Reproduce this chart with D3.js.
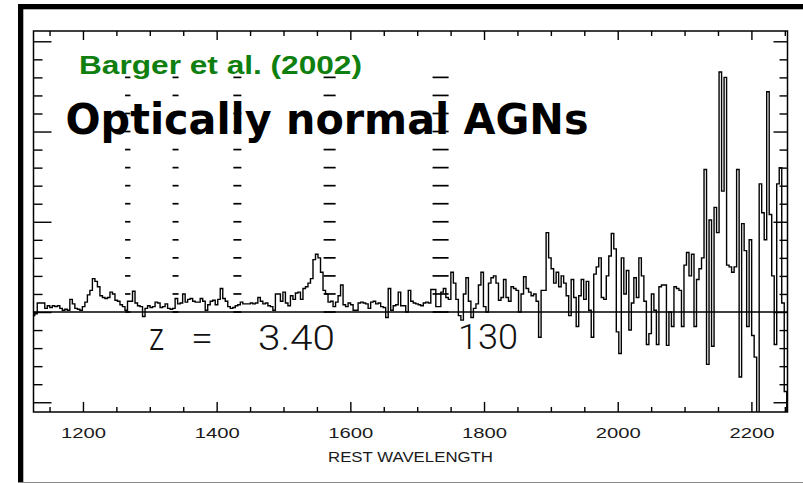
<!DOCTYPE html>
<html>
<head>
<meta charset="utf-8">
<script src="https://cdn.jsdelivr.net/npm/d3@7"></script>
<style>
  html, body { margin: 0; padding: 0; background: #fff; }
  svg { display: block; }
</style>
</head>
<body>
<svg id="chart" width="803" height="483"></svg>
<script>
// Rest-frame wavelength grid (Angstrom) of the binned spectrum
const waveStart = 1126;
const waveEnd = 2254;
const waveStep = 3.75;

// Flux per bin (arbitrary units, continuum-subtracted)
const flux = [
  -0.2, -0.1, 0.5, 0.5, 0.5, 0.2, 0.35, 0.25, 0.35, 0.3,
  0.35, 0.2, 0.1, 0.15, 0.1, 0.7, 0.45, 0.2, 0.15, 0.1,
  0.3, 0.55, 0.95, 1.2, 1.85, 1.7, 1.4, 0.9, 0.8, 0.75,
  0.8, 1.1, 1.0, 0.65, 0.6, 0.4, 0.3, 0.1, 0.6, 0.6,
  1.15, 0.5, 0.35, 0.3, -0.25, 0.2, 0.35, 0.25, 0.3, 0.55,
  0.5, 0.25, 0.3, 0.45, 0.2, 0.15, 0.2, 0.75, 0.45, 0.5,
  1.0, 0.55, 0.7, 0.75, 0.6, 0.55, 0.55, 0.75, 0.6, 0.1,
  0.4, 0.6, 0.65, 0.4, 0.7, 1.3, 0.75, 0.6, 0.3, 0.2,
  0.25, 0.35, 0.4, 0.55, 0.45, 0.45, 0.45, 0.5, 0.45, 0.5,
  0.8, 0.6, 0.45, 0.5, 0.35, 0.3, 0.1, 1.0, 1.0, 0.6,
  1.1, 0.5, 0.35, 0.9, 0.7, 1.05, 1.1, 0.7, 1.3, 1.4,
  1.6, 1.85, 2.9, 3.2, 3.0, 2.2, 1.2, 1.0, 0.55, 0.6,
  0.3, 0.55, 0.9, 1.5, 0.4, 0.3, 0.5, 0.4, 0.1, 0.1,
  0.5, 0.55, 0.5, 0.45, 0.2, 0.55, 0.6, 0.45, 0.5, 0.3,
  0.25, -0.3, 1.3, 0.1, 0.35, 0.4, 1.1, 0.35, 0.35, 0.0,
  1.2, 0.6, 0.5, 0.45, 0.4, 0.35, 0.5, 0.55, 0.5, 1.25,
  1.25, 0.3, 0.3, 1.1, 1.3, 0.8, 0.7, 2.2, 1.6, 0.7,
  -0.2, -0.45, 1.0, 1.9, 0.6, -0.3, 0.2, 0.45, 1.5, 2.2,
  0.3, 0.0, 1.6, 1.9, 2.0, 1.6, 0.65, 0.8, 1.8, 0.8,
  0.6, 1.4, 1.3, 1.2, 0.0, 1.0, 1.95, 1.3, 1.1, 0.9,
  1.0, 0.6, -1.4, 1.2, 1.2, 4.4, 3.0, 2.4, 1.6, 2.2,
  1.4, 2.0, 1.6, 0.9, -0.2, 1.8, 0.8, -0.8, 0.9, 1.8,
  0.7, 1.7, 0.1, -1.4, 2.1, 2.5, 3.0, 0.8, 0.7, 2.0,
  3.1, 4.35, 3.5, -1.1, -2.3, 3.0, 1.0, 2.3, -1.0, 0.5,
  1.9, 0.8, 3.0, 2.0, 0.6, -1.8, -1.2, 1.0, 0.1, -1.8,
  1.4, 1.5, 1.5, -1.85, 0.0, -0.8, 1.4, 1.3, 1.2, -0.8,
  2.6, 3.3, 2.0, 3.2, -0.8, 1.8, 2.4, 3.0, 7.9, -2.9,
  5.1, -1.9, 5.8, 4.4, 13.3, 6.7, 13.0, 2.6, 2.5, 2.2,
  2.5, 7.9, -3.6, 4.9, 3.4, -0.8, 4.0, -1.3, -2.5, -6.0,
  7.1, 5.5, 4.0, 12.2, 5.4, 2.0, -1.8, 7.1, 8.0, 0.5,
  -4.4, -6.0
];

// Axis ticks
const xMajorTicks = [1200, 1400, 1600, 1800, 2000, 2200];
const xMinorTicks = [1150, 1250, 1300, 1350, 1450, 1500, 1550, 1650, 1700, 1750,
                     1850, 1900, 1950, 2050, 2100, 2150, 2250];
const yMajorTicks = [-5, 0, 5, 10, 15];
const yMinorTicks = [-4, -3, -2, -1, 1, 2, 3, 4, 6, 7, 8, 9, 11, 12, 13, 14];

// Emission-line windows marked by dashed columns [blue edge, red edge] in Angstrom
const lineWindows = [[1263, 1271], [1334, 1343], [1425, 1437], [1560, 1578], [1723, 1747]];
const lineMarkLevels = [0, 1, 2, 3, 4, 5, 6, 7, 8, 9, 10, 11, 12, 13];

// Texts
const xAxisTitle = "REST WAVELENGTH";
const creditText = "Barger et al. (2002)";
const titleText = "Optically normal AGNs";
const redshiftParts = ["z", "=", "3.40"];
const objectId = "130";

const svg = d3.select("#chart");
const plot = { left: 33.5, right: 787.5, top: 31, bottom: 412 };

const x = d3.scaleLinear().domain([waveStart, waveEnd]).range([plot.left, plot.right]);
const y = d3.scaleLinear().domain([-5.54, 15.57]).range([plot.bottom, plot.top]);

// Slide frame: heavy rule on the left and top, hairline at the bottom
svg.append("rect").attr("x", 18).attr("y", 4).attr("width", 5.3).attr("height", 479).attr("fill", "#000");
svg.append("rect").attr("x", 18).attr("y", 4).attr("width", 785).attr("height", 5.3).attr("fill", "#000");
svg.append("line").attr("x1", 18).attr("x2", 803).attr("y1", 482.5).attr("y2", 482.5)
  .attr("stroke", "#8a8a8a").attr("stroke-width", 1);

// Titles (drawn first so the line markers sit on top)
svg.append("text")
  .attr("x", 79).attr("y", 74)
  .attr("font-family", "'Liberation Sans', Arial, sans-serif")
  .attr("font-weight", "bold").attr("font-size", 26.5)
  .attr("fill", "#0f7f0f")
  .attr("textLength", 283).attr("lengthAdjust", "spacingAndGlyphs")
  .text(creditText);

svg.append("text")
  .attr("x", 65.5).attr("y", 134)
  .attr("font-family", "'DejaVu Sans', sans-serif")
  .attr("font-weight", "bold").attr("font-size", 42.5)
  .attr("fill", "#000")
  .attr("textLength", 523).attr("lengthAdjust", "spacingAndGlyphs")
  .text(titleText);

// Axes
function styleAxis(g) {
  g.select(".domain").remove();
  g.selectAll(".tick line").attr("stroke", "#000").attr("stroke-width", 1.4);
}

svg.append("g").attr("transform", `translate(0,${plot.bottom})`)
  .call(d3.axisBottom(x).tickValues(xMajorTicks).tickSize(-10).tickPadding(15.4).tickFormat(d3.format("d")))
  .call(styleAxis)
  .call(g => g.selectAll("text")
    .attr("font-family", "'Liberation Sans', Arial, sans-serif")
    .attr("font-size", 15).attr("fill", "#1a1a1a")
    .attr("textLength", 45).attr("lengthAdjust", "spacingAndGlyphs"));
svg.append("g").attr("transform", `translate(0,${plot.bottom})`)
  .call(d3.axisBottom(x).tickValues(xMinorTicks).tickSize(-5).tickFormat(""))
  .call(styleAxis);

svg.append("g").attr("transform", `translate(0,${plot.top})`)
  .call(d3.axisTop(x).tickValues(xMajorTicks).tickSize(-9).tickFormat(""))
  .call(styleAxis);
svg.append("g").attr("transform", `translate(0,${plot.top})`)
  .call(d3.axisTop(x).tickValues(xMinorTicks).tickSize(-5).tickFormat(""))
  .call(styleAxis);

svg.append("g").attr("transform", `translate(${plot.left},0)`)
  .call(d3.axisLeft(y).tickValues(yMajorTicks).tickSize(-18).tickFormat(""))
  .call(styleAxis);
svg.append("g").attr("transform", `translate(${plot.left},0)`)
  .call(d3.axisLeft(y).tickValues(yMinorTicks).tickSize(-9).tickFormat(""))
  .call(styleAxis);

svg.append("g").attr("transform", `translate(${plot.right},0)`)
  .call(d3.axisRight(y).tickValues(yMajorTicks).tickSize(-14).tickFormat(""))
  .call(styleAxis);
svg.append("g").attr("transform", `translate(${plot.right},0)`)
  .call(d3.axisRight(y).tickValues(yMinorTicks).tickSize(-8).tickFormat(""))
  .call(styleAxis);

svg.append("text")
  .attr("x", 410.5).attr("y", 461.5)
  .attr("text-anchor", "middle")
  .attr("font-family", "'Liberation Sans', Arial, sans-serif")
  .attr("font-size", 15.5).attr("fill", "#1a1a1a")
  .attr("textLength", 165).attr("lengthAdjust", "spacingAndGlyphs")
  .text(xAxisTitle);

// Clip region for the data
svg.append("clipPath").attr("id", "plot-clip")
  .append("rect")
  .attr("x", plot.left).attr("y", plot.top)
  .attr("width", plot.right - plot.left).attr("height", plot.bottom - plot.top);

const dataLayer = svg.append("g").attr("clip-path", "url(#plot-clip)");

// Zero level
dataLayer.append("line")
  .attr("x1", plot.left).attr("x2", plot.right)
  .attr("y1", y(0)).attr("y2", y(0))
  .attr("stroke", "#000").attr("stroke-width", 1.4);

// Binned spectrum drawn as a histogram-style step line
const spectrum = flux.map((f, i) => ({ wave: waveStart + i * waveStep, flux: f }));
const stepLine = d3.line()
  .x(d => x(d.wave))
  .y(d => y(d.flux))
  .curve(d3.curveStep);

dataLayer.append("path")
  .datum(spectrum)
  .attr("d", stepLine)
  .attr("fill", "none")
  .attr("stroke", "#000")
  .attr("stroke-width", 1.4)
  .attr("stroke-linejoin", "miter");

// Emission-line markers: stacked short dashes across each window
const markData = lineWindows.flatMap(w => lineMarkLevels.map(l => ({ lo: w[0], hi: w[1], level: l })));
svg.append("g").selectAll("line")
  .data(markData)
  .join("line")
  .attr("x1", d => x(d.lo)).attr("x2", d => x(d.hi))
  .attr("y1", d => y(d.level)).attr("y2", d => y(d.level))
  .attr("stroke", "#000").attr("stroke-width", 1.7);

// Plot frame
svg.append("rect")
  .attr("x", plot.left).attr("y", plot.top)
  .attr("width", plot.right - plot.left).attr("height", plot.bottom - plot.top)
  .attr("fill", "none").attr("stroke", "#000").attr("stroke-width", 1.5);

// Redshift and object annotations in a thin face
const thinFont = "Roboto, 'Open Sans', 'DejaVu Sans', sans-serif";
const redshiftSpans = [
  { text: redshiftParts[0], x0: 149, len: 15 },
  { text: redshiftParts[1], x0: 191, len: 22 },
  { text: redshiftParts[2], x0: 258, len: 77 }
];
svg.append("g").selectAll("text")
  .data(redshiftSpans)
  .join("text")
  .attr("x", d => d.x0).attr("y", 350)
  .attr("font-family", thinFont).attr("font-weight", 300)
  .attr("font-size", d => d.text === "z" ? 38 : 35).attr("fill", "#111")
  .attr("textLength", d => d.len).attr("lengthAdjust", "spacingAndGlyphs")
  .text(d => d.text);

svg.append("text")
  .attr("x", 458).attr("y", 349)
  .attr("font-family", thinFont).attr("font-weight", 300)
  .attr("font-size", 35).attr("fill", "#111")
  .attr("textLength", 60).attr("lengthAdjust", "spacingAndGlyphs")
  .text(objectId);
</script>
</body>
</html>
